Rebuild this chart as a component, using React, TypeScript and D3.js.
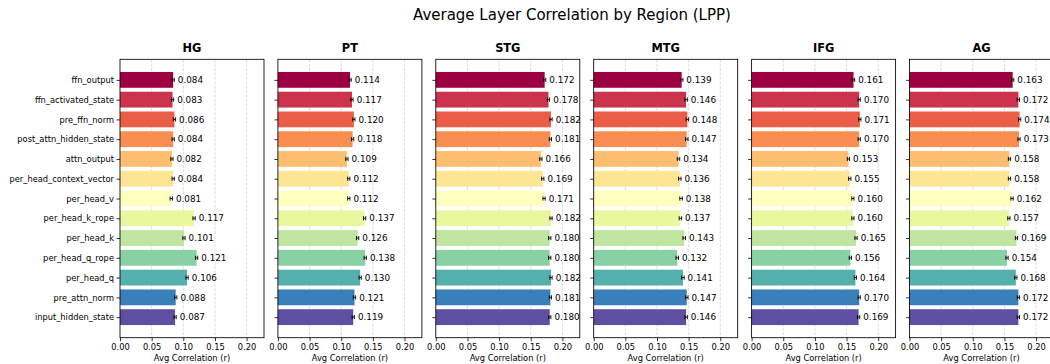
import { useEffect, useRef } from 'react'
import * as d3 from 'd3'

const WIDTH = 1050
const HEIGHT = 364
const FONT = '"DejaVu Sans", Verdana, sans-serif'

const PANEL_LEFT0 = 120
const PANEL_STEP = 157.9
const PANEL_W = 144
const PANEL_TOP = 59.3
const PANEL_BOTTOM = 337.7

const TITLE = 'Average Layer Correlation by Region (LPP)'
const X_LABEL = 'Avg Correlation (r)'

const REGIONS = ['HG', 'PT', 'STG', 'MTG', 'IFG', 'AG']

const LAYERS = [
  'ffn_output',
  'ffn_activated_state',
  'pre_ffn_norm',
  'post_attn_hidden_state',
  'attn_output',
  'per_head_context_vector',
  'per_head_v',
  'per_head_k_rope',
  'per_head_k',
  'per_head_q_rope',
  'per_head_q',
  'pre_attn_norm',
  'input_hidden_state',
]

const HG = [0.084, 0.083, 0.086, 0.084, 0.082, 0.084, 0.081, 0.117, 0.101, 0.121, 0.106, 0.088, 0.087]
const PT = [0.114, 0.117, 0.12, 0.118, 0.109, 0.112, 0.112, 0.137, 0.126, 0.138, 0.13, 0.121, 0.119]
const STG = [0.172, 0.178, 0.182, 0.181, 0.166, 0.169, 0.171, 0.182, 0.18, 0.18, 0.182, 0.181, 0.18]
const MTG = [0.139, 0.146, 0.148, 0.147, 0.134, 0.136, 0.138, 0.137, 0.143, 0.132, 0.141, 0.147, 0.146]
const IFG = [0.161, 0.17, 0.171, 0.17, 0.153, 0.155, 0.16, 0.16, 0.165, 0.156, 0.164, 0.17, 0.169]
const AG = [0.163, 0.172, 0.174, 0.173, 0.158, 0.158, 0.162, 0.157, 0.169, 0.154, 0.168, 0.172, 0.172]

// rough standard errors, same look in every panel
const ERRORS = [0.0018, 0.0018, 0.0018, 0.002, 0.0018, 0.0018]

const X_TICKS = [0, 0.05, 0.1, 0.15, 0.2]
const X_MAX = 0.2275

// matplotlib "Spectral" anchors
const SPECTRAL = [
  '#9e0142', '#d53e4f', '#f46d43', '#fdae61', '#fee08b', '#ffffbf',
  '#e6f598', '#abdda4', '#66c2a5', '#3288bd', '#5e4fa2',
]

export default function App() {
  const ref = useRef<SVGSVGElement>(null)

  useEffect(() => {
    const el = ref.current
    if (!el) return
    const svg = d3.select(el)
    svg.selectAll('*').remove()

    const seriesByRegion = [HG, PT, STG, MTG, IFG, AG]

    const spectral = d3
      .scaleLinear<string>()
      .domain(SPECTRAL.map((_, i) => i / (SPECTRAL.length - 1)))
      .range(SPECTRAL)
      .interpolate(d3.interpolateRgb)

    const color = (i: number) => spectral(i / (LAYERS.length - 1))

    const xScale = d3.scaleLinear().domain([0, X_MAX]).range([0, PANEL_W])
    const yScale = d3
      .scaleLinear()
      .domain([-1.04, LAYERS.length - 1 + 1.04])
      .range([PANEL_TOP, PANEL_BOTTOM])
    const barH = yScale(0.8) - yScale(0)

    svg
      .append('text')
      .attr('x', 413)
      .attr('y', 20)
      .attr('font-family', FONT)
      .attr('font-size', 15)
      .attr('fill', '#000')
      .text(TITLE)

    REGIONS.forEach((region, r) => {
      const values = seriesByRegion[r]
      const err = ERRORS[r]
      const left = PANEL_LEFT0 + r * PANEL_STEP
      const g = svg.append('g').attr('transform', `translate(${left},0)`)

      g.append('text')
        .attr('x', PANEL_W / 2)
        .attr('y', 51.7)
        .attr('text-anchor', 'middle')
        .attr('font-family', FONT)
        .attr('font-weight', 'bold')
        .attr('font-size', 11.4)
        .text(region)

      // grid behind bars
      g.append('g')
        .selectAll('line')
        .data(X_TICKS.slice(1))
        .join('line')
        .attr('x1', (d) => xScale(d))
        .attr('x2', (d) => xScale(d))
        .attr('y1', PANEL_TOP)
        .attr('y2', PANEL_BOTTOM)
        .attr('stroke', '#b0b0b0')
        .attr('stroke-opacity', 0.55)
        .attr('stroke-width', 0.8)
        .attr('stroke-dasharray', '3.1 1.3')

      g.append('g')
        .selectAll('rect')
        .data(values)
        .join('rect')
        .attr('x', xScale(0))
        .attr('y', (_, i) => yScale(i) - barH / 2)
        .attr('width', (d) => xScale(d) - xScale(0))
        .attr('height', barH)
        .attr('fill', (_, i) => color(i))

      const eb = g.append('g').attr('stroke', '#000').attr('stroke-width', 0.9)
      values.forEach((v, i) => {
        const y = yScale(i)
        eb.append('line')
          .attr('x1', xScale(v - err))
          .attr('x2', xScale(v + err))
          .attr('y1', y)
          .attr('y2', y)
        for (const xv of [v - err, v + err]) {
          eb.append('line')
            .attr('x1', xScale(xv))
            .attr('x2', xScale(xv))
            .attr('y1', y - 2.1)
            .attr('y2', y + 2.1)
        }
      })

      g.append('g')
        .selectAll('text')
        .data(values)
        .join('text')
        .attr('x', (d) => xScale(d + 0.0074))
        .attr('y', (_, i) => yScale(i))
        .attr('dy', '0.36em')
        .attr('font-family', FONT)
        .attr('font-size', 8.8)
        .attr('fill', '#000')
        .text((d) => d.toFixed(3))

      const yAxis = d3
        .axisLeft(yScale)
        .tickValues(d3.range(LAYERS.length))
        .tickFormat((d) => (r === 0 ? LAYERS[Number(d)] : ''))
        .tickSize(3.5)
        .tickPadding(2.5)

      g.append('g')
        .call(yAxis)
        .call((sel) => sel.select('.domain').remove())
        .call((sel) => sel.selectAll('.tick line').attr('stroke', '#000').attr('stroke-width', 0.8))
        .call((sel) =>
          sel
            .selectAll('.tick text')
            .attr('font-family', FONT)
            .attr('font-size', 8.3)
            .attr('fill', '#000')
        )

      const xAxis = d3
        .axisBottom(xScale)
        .tickValues(X_TICKS)
        .tickFormat(d3.format('.2f'))
        .tickSize(3.5)
        .tickPadding(2.9)

      g.append('g')
        .attr('transform', `translate(0,${PANEL_BOTTOM})`)
        .call(xAxis)
        .call((sel) => sel.select('.domain').remove())
        .call((sel) => sel.selectAll('.tick line').attr('stroke', '#000').attr('stroke-width', 0.8))
        .call((sel) =>
          sel
            .selectAll('.tick text')
            .attr('font-family', FONT)
            .attr('font-size', 8.3)
            .attr('fill', '#000')
        )

      g.append('text')
        .attr('x', PANEL_W / 2)
        .attr('y', 360.5)
        .attr('text-anchor', 'middle')
        .attr('font-family', FONT)
        .attr('font-size', 8.3)
        .attr('fill', '#000')
        .text(X_LABEL)

      g.append('rect')
        .attr('x', 0)
        .attr('y', PANEL_TOP)
        .attr('width', PANEL_W)
        .attr('height', PANEL_BOTTOM - PANEL_TOP)
        .attr('fill', 'none')
        .attr('stroke', '#000')
        .attr('stroke-width', 0.85)
    })
  }, [])

  return (
    <div style={{ position: 'fixed', left: 0, top: 0, width: WIDTH, height: HEIGHT, background: '#fff' }}>
      <svg ref={ref} width={WIDTH} height={HEIGHT} style={{ display: 'block', overflow: 'hidden' }} />
    </div>
  )
}
